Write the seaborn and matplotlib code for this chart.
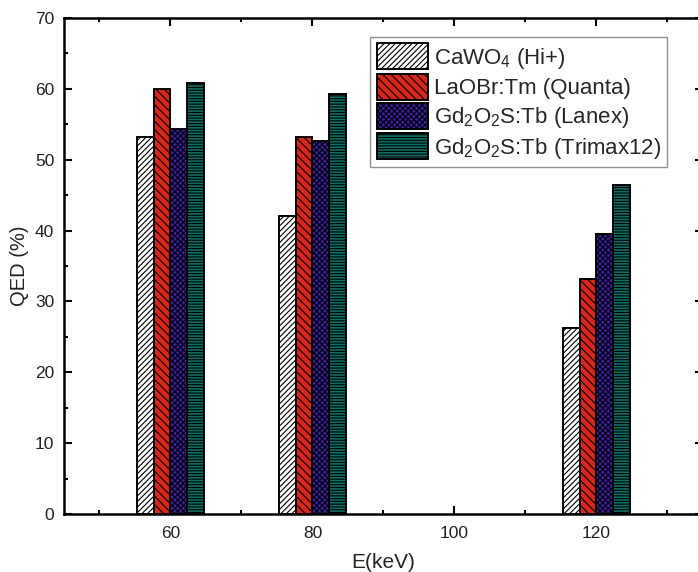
import matplotlib
matplotlib.use("Agg")
import matplotlib.pyplot as plt
import seaborn as sns
import pandas as pd
from matplotlib.ticker import MultipleLocator

# 데이터
energies = [60, 80, 120]
screens = ["CaWO$_4$ (Hi+)", "LaOBr:Tm (Quanta)",
           "Gd$_2$O$_2$S:Tb (Lanex)", "Gd$_2$O$_2$S:Tb (Trimax12)"]
cawo4 = [53.2, 42.0, 26.2]
laobr = [60.0, 53.2, 33.2]
lanex = [54.3, 52.6, 39.5]
trimax = [60.8, 59.3, 46.5]

rows = []
for name, vals in zip(screens, [cawo4, laobr, lanex, trimax]):
    for e, v in zip(energies, vals):
        rows.append({"E": e, "QED": v, "Screen": name})
df = pd.DataFrame(rows)

sns.set_style("ticks")
plt.rcParams["font.family"] = ["Liberation Sans", "DejaVu Sans"]
plt.rcParams["mathtext.default"] = "regular"
plt.rcParams["hatch.linewidth"] = 0.8

colors = ["#ffffff", "#d8261b", "#3b1e9e", "#0b6f66"]
hatches = ["//////", "\\\\\\\\", "xxxxxx", "------"]

fig = plt.figure(figsize=(6.98, 5.72), dpi=100)
ax = fig.add_axes([0.0917, 0.1014, 0.915, 0.867])

sns.barplot(data=df, x="E", y="QED", hue="Screen", native_scale=True,
            width=0.47, palette=colors, edgecolor="black", linewidth=1.4,
            errorbar=None, ax=ax, saturation=1)

for cont, h in zip(ax.containers, hatches):
    for bar in cont:
        bar.set_hatch(h)

ax.set_xlim(45, 135)
ax.set_ylim(0, 70)
ax.set_xticks([60, 80, 100, 120])
ax.xaxis.set_minor_locator(MultipleLocator(10))
ax.yaxis.set_major_locator(MultipleLocator(10))
ax.yaxis.set_minor_locator(MultipleLocator(5))
ax.tick_params(which="both", direction="in", top=True, right=True,
               labelsize=12.5, width=1.5, color="black", labelcolor="#222222")
ax.tick_params(which="major", length=6)
ax.tick_params(which="minor", length=3)
ax.tick_params(axis="x", pad=9)
ax.tick_params(axis="y", pad=7)
for s in ax.spines.values():
    s.set_linewidth(1.8)
    s.set_color("black")

ax.set_xlabel("E(keV)", fontsize=15, color="#222222", labelpad=8)
ax.set_ylabel("QED (%)", fontsize=14.5, color="#222222", labelpad=4)

leg = ax.legend(loc="upper left", bbox_to_anchor=(0.462, 0.985),
                fontsize=16, frameon=True, fancybox=False,
                handlelength=2.3, handleheight=1.4, labelspacing=0.15,
                borderpad=0.3, handletextpad=0.25)
leg.get_frame().set_edgecolor("#777777")
leg.get_frame().set_linewidth(1.0)
for hnd, h in zip(leg.legend_handles, hatches):
    hnd.set_hatch(h)
    hnd.set_edgecolor("black")
    hnd.set_linewidth(1.4)

plt.savefig("out.png", dpi=100)
